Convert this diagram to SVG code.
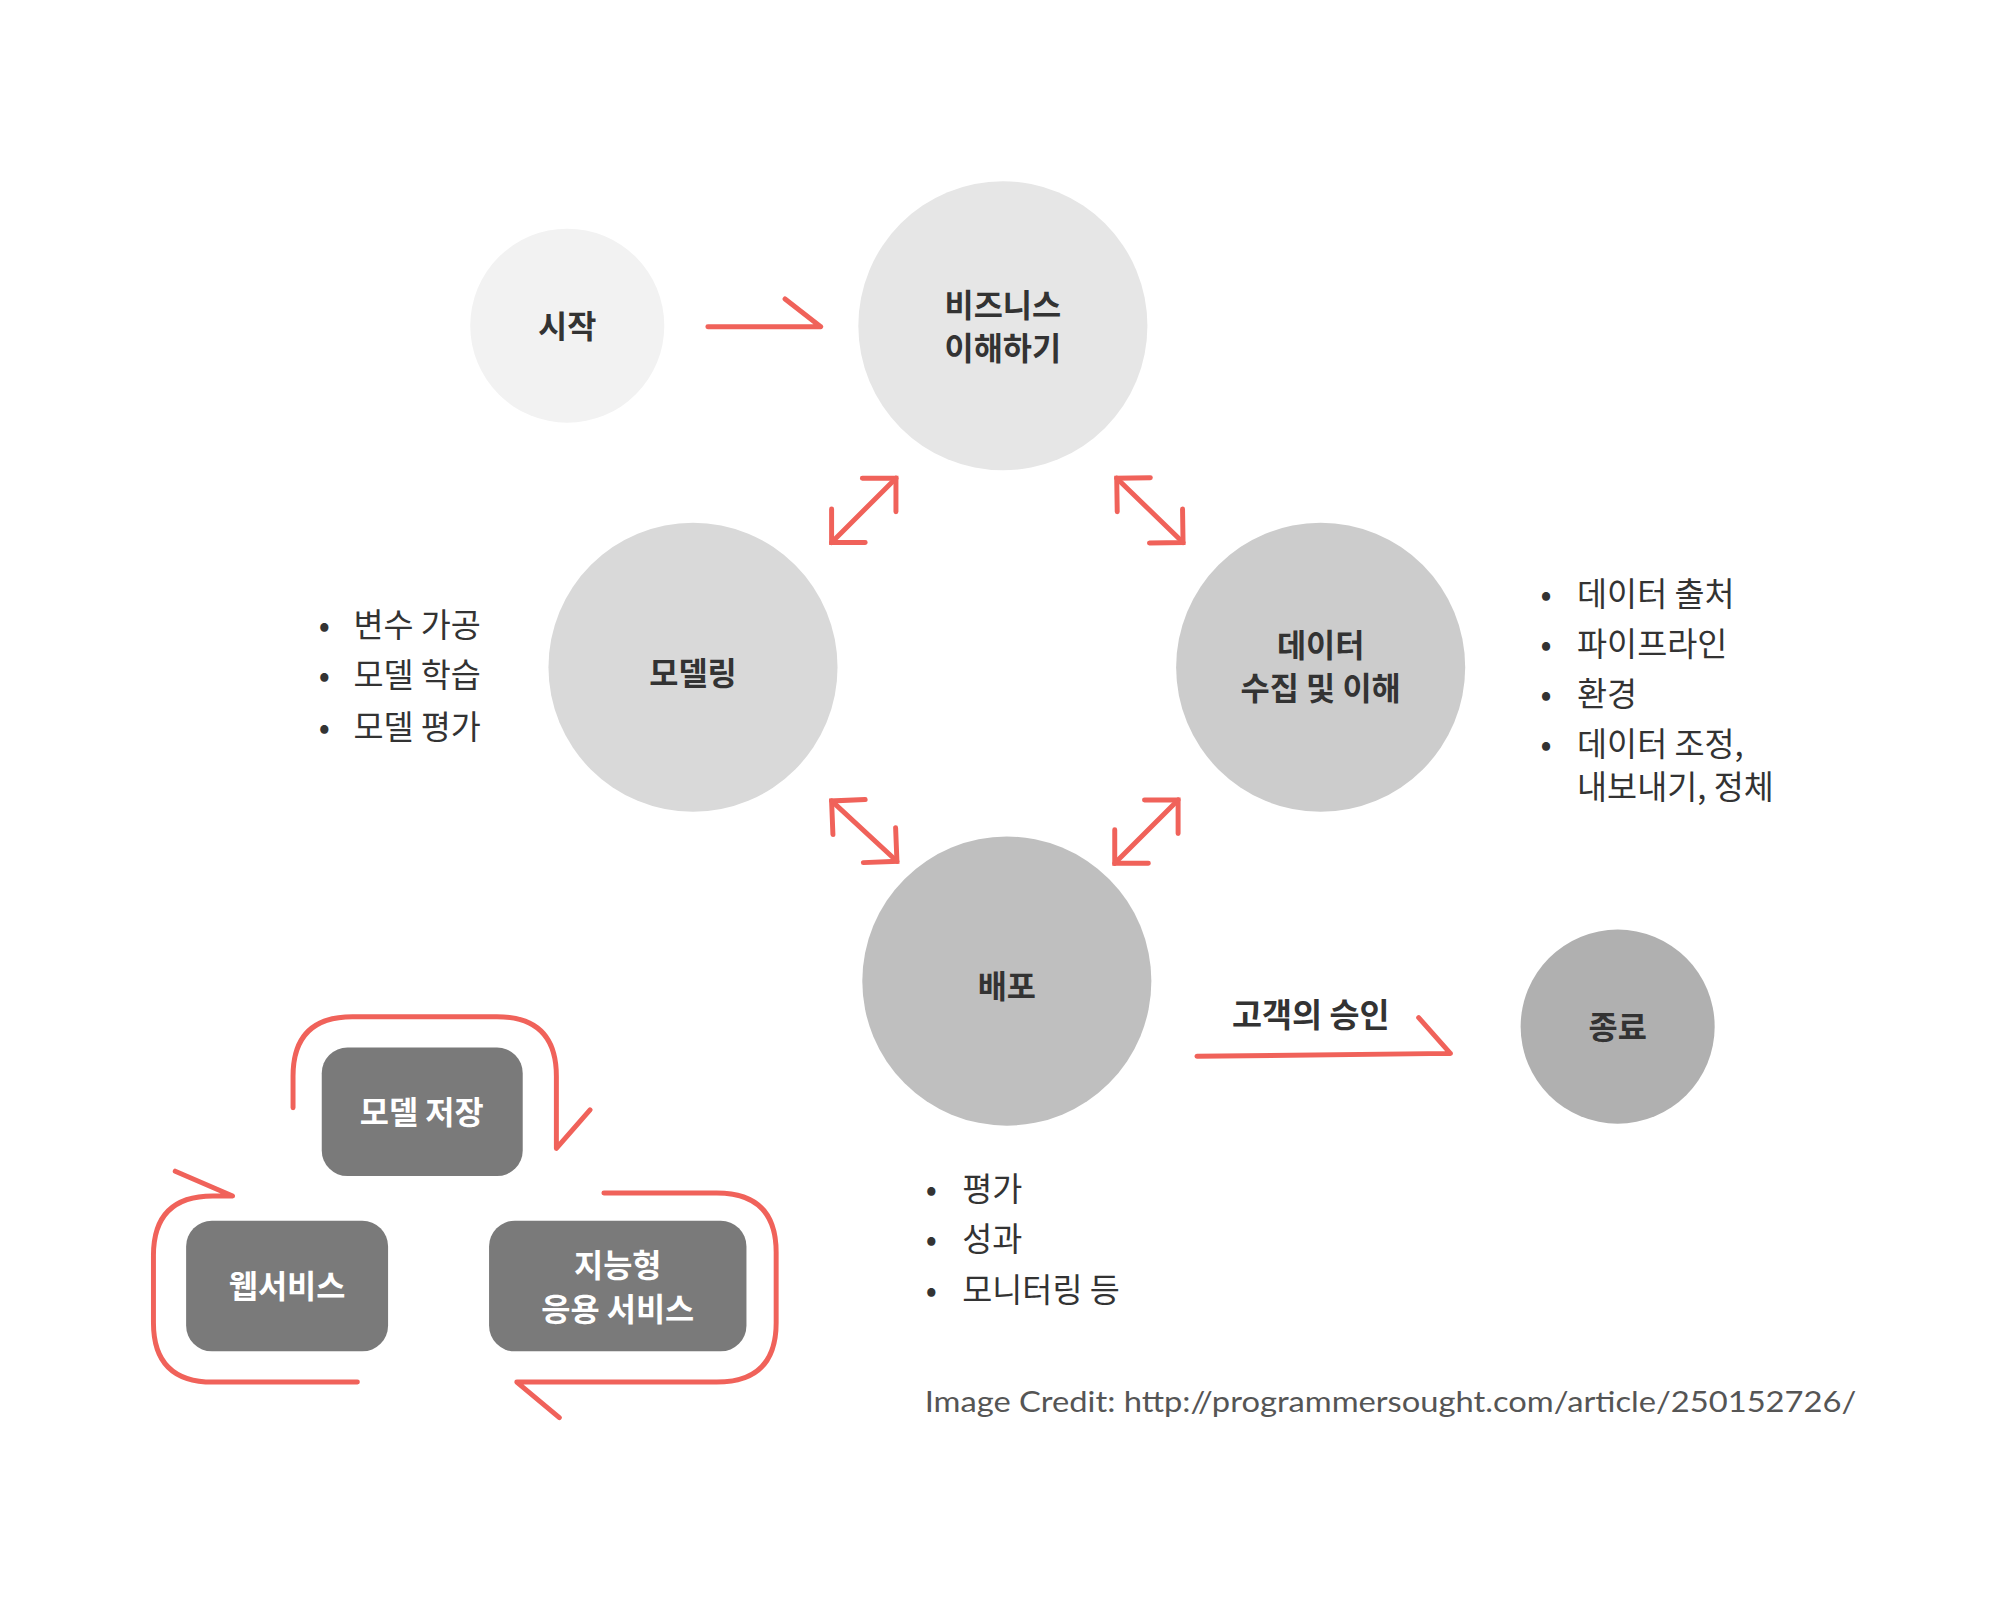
<svg xmlns="http://www.w3.org/2000/svg" width="2000" height="1600" viewBox="0 0 2000 1600">
<style>
.n{font-family:"Noto Sans CJK KR","Noto Sans",sans-serif;font-size:32px;font-weight:bold;fill:#333;text-anchor:middle}
.b{font-family:"Noto Sans CJK KR","Noto Sans",sans-serif;font-size:33px;fill:#333}
.w{font-family:"Noto Sans CJK KR","Noto Sans",sans-serif;font-size:32px;font-weight:bold;fill:#fff;text-anchor:middle}
.r{fill:none;stroke:#f0625a;stroke-width:5;stroke-linecap:round;stroke-linejoin:round}
.box{fill:#7a7a7a}
</style>
<defs>
<marker id="chev" markerUnits="userSpaceOnUse" markerWidth="60" markerHeight="60" refX="0" refY="0" viewBox="-30 -30 60 60" orient="auto-start-reverse" overflow="visible">
<path d="M-24,-24 L0,0 L-24,24" fill="none" stroke="#f0625a" stroke-width="5" stroke-linecap="round" stroke-linejoin="miter"/>
</marker>
</defs>
<rect width="2000" height="1600" fill="#fff"/>
<g transform="scale(0.99)">
<g id="start"><circle cx="573" cy="329" r="98" fill="#f2f2f2"/><text class="n" x="573" y="341">시작</text></g>
<g id="business"><circle cx="1013" cy="329" r="146" fill="#e6e6e6"/><text class="n" x="1013" y="320">비즈니스</text><text class="n" x="1013" y="364">이해하기</text></g>
<g id="modeling"><circle cx="700" cy="674" r="146" fill="#d9d9d9"/><text class="n" x="700" y="692">모델링</text></g>
<g id="data"><circle cx="1334" cy="674" r="146" fill="#cccccc"/><text class="n" x="1334" y="664">데이터</text><text class="n" x="1334" y="707">수집 및 이해</text></g>
<g id="deploy"><circle cx="1017" cy="991" r="146" fill="#bfbfbf"/><text class="n" x="1017" y="1008">배포</text></g>
<g id="end"><circle cx="1634" cy="1037" r="98" fill="#b0b0b0"/><text class="n" x="1634" y="1050">종료</text></g>
<g id="connectors">
<path class="r" d="M715,330 H829 M793,302 L829,330"/>
<line class="r" x1="840" y1="548" x2="905" y2="483" marker-start="url(#chev)" marker-end="url(#chev)"/>
<line class="r" x1="1128" y1="483" x2="1195" y2="548" marker-start="url(#chev)" marker-end="url(#chev)"/>
<line class="r" x1="840" y1="809" x2="906" y2="870" marker-start="url(#chev)" marker-end="url(#chev)"/>
<line class="r" x1="1190" y1="808" x2="1126" y2="872" marker-start="url(#chev)" marker-end="url(#chev)"/>
<path class="r" d="M1209,1067 L1465,1064 M1433,1028 L1465,1064"/>
<text class="n" x="1324" y="1037" style="font-size:33px">고객의 승인</text>
</g>
<g id="bullets" class="b">
<text x="322" y="643">•</text><text x="357" y="643">변수 가공</text>
<text x="322" y="694">•</text><text x="357" y="694">모델 학습</text>
<text x="322" y="746">•</text><text x="357" y="746">모델 평가</text>
<text x="1556" y="612">•</text><text x="1593" y="612">데이터 출처</text>
<text x="1556" y="663">•</text><text x="1593" y="663">파이프라인</text>
<text x="1556" y="713">•</text><text x="1593" y="713">환경</text>
<text x="1556" y="764">•</text><text x="1593" y="764">데이터 조정,</text>
<text x="1593" y="807">내보내기, 정체</text>
<text x="935" y="1213">•</text><text x="972" y="1213">평가</text>
<text x="935" y="1264">•</text><text x="972" y="1264">성과</text>
<text x="935" y="1315">•</text><text x="972" y="1315">모니터링 등</text>
</g>
<g id="loops">
<path class="r" d="M296,1119 V1087 Q296,1027 356,1027 H502 Q562,1027 562,1087 V1160 L596,1121"/>
<path class="r" d="M361,1396 H215 Q155,1396 155,1336 V1268 Q155,1208 215,1208 H235 L177,1183"/>
<path class="r" d="M610,1205 H724 Q784,1205 784,1265 V1336 Q784,1396 724,1396 H522 L565,1432"/>
</g>
<g id="save"><rect class="box" x="325" y="1058" width="203" height="130" rx="26"/><text class="w" x="426" y="1135">모델 저장</text></g>
<g id="web"><rect class="box" x="188" y="1233" width="204" height="132" rx="26"/><text class="w" x="290" y="1311">웹서비스</text></g>
<g id="smart"><rect class="box" x="494" y="1233" width="260" height="132" rx="26"/><text class="w" x="624" y="1290">지능형</text><text class="w" x="624" y="1334">응용 서비스</text></g>
<text x="934" y="1426" font-family="Lato, 'Open Sans', sans-serif" font-size="30" fill="#555" textLength="941" lengthAdjust="spacingAndGlyphs">Image Credit: http://programmersought.com/article/250152726/</text>
</g>
</svg>
